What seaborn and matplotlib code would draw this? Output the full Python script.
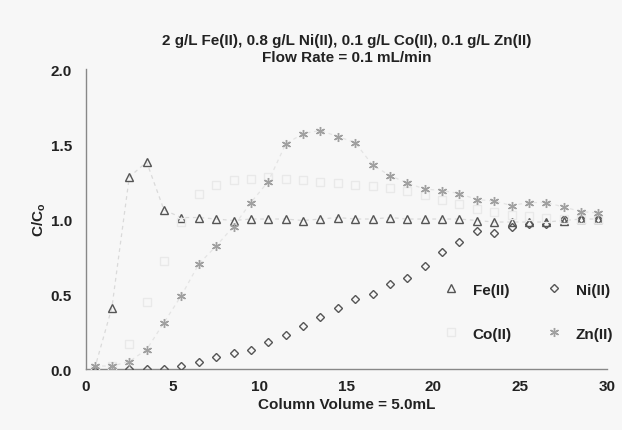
import matplotlib
matplotlib.use("Agg")
import matplotlib.pyplot as plt
import seaborn as sns
import pandas as pd

volume = [0.5, 1.5, 2.5, 3.5, 4.5, 5.5, 6.5, 7.5, 8.5, 9.5, 10.5, 11.5, 12.5, 13.5, 14.5,
          15.5, 16.5, 17.5, 18.5, 19.5, 20.5, 21.5, 22.5, 23.5, 24.5, 25.5, 26.5, 27.5, 28.5, 29.5]
fe = [0.0, 0.41, 1.28, 1.38, 1.06, 1.01, 1.01, 1.0, 0.99, 1.0, 1.0, 1.0, 0.99, 1.0, 1.01,
      1.0, 1.0, 1.01, 1.0, 1.0, 1.0, 1.0, 0.99, 0.98, 0.98, 0.98, 0.98, 0.99, 1.0, 1.0]
ni = [0.0, 0.0, 0.0, 0.0, 0.0, 0.02, 0.05, 0.08, 0.11, 0.13, 0.18, 0.23, 0.29, 0.35, 0.41,
      0.47, 0.50, 0.57, 0.61, 0.69, 0.78, 0.85, 0.92, 0.91, 0.95, 0.97, 0.97, 1.0, 1.0, 1.0]
co = [0.0, 0.02, 0.17, 0.45, 0.72, 0.98, 1.17, 1.23, 1.26, 1.27, 1.28, 1.27, 1.26, 1.25, 1.24,
      1.23, 1.22, 1.21, 1.19, 1.16, 1.13, 1.10, 1.07, 1.05, 1.03, 1.02, 1.01, 1.0, 1.0, 1.0]
zn = [0.02, 0.02, 0.05, 0.13, 0.31, 0.49, 0.70, 0.82, 0.95, 1.11, 1.25, 1.50, 1.57, 1.59, 1.55,
      1.51, 1.36, 1.29, 1.24, 1.20, 1.19, 1.17, 1.13, 1.12, 1.09, 1.11, 1.11, 1.08, 1.05, 1.04]

title = "2 g/L Fe(II), 0.8 g/L Ni(II), 0.1 g/L Co(II), 0.1 g/L Zn(II)\nFlow Rate = 0.1 mL/min"
xlabel = "Column Volume = 5.0mL"
ylabel = "C/C$_\\mathregular{o}$"

sns.set_theme(style="white")
plt.rcParams['font.family'] = ['Liberation Sans', 'DejaVu Sans']

bg = "#f7f7f7"
fig = plt.figure(figsize=(6.22, 4.31), dpi=100, facecolor=bg)
ax = fig.add_axes([0.138, 0.1415, 0.838, 0.696])
ax.set_facecolor(bg)

series = [
    ("Fe(II)", fe, "^", "#555555", "#dadada", 6.0),
    ("Ni(II)", ni, "D", "#555555", None, 4.3),
    ("Co(II)", co, "s", "#e9e9e9", None, 6.0),
    ("Zn(II)", zn, (6, 2, 0), "#a0a0a0", "#e4e4e4", 6.5),
]

handles = []
for name, vals, mk, col, linecol, ms in series:
    df = pd.DataFrame({"x": volume, "y": vals})
    if linecol is not None:
        sns.lineplot(data=df, x="x", y="y", ax=ax, color=linecol, lw=0.9,
                     linestyle=(0, (3, 3)), zorder=1)
    sns.lineplot(data=df, x="x", y="y", ax=ax, linestyle="none", marker=mk,
                 markersize=ms, markerfacecolor="none", markeredgecolor=col,
                 markeredgewidth=1.0, color=col, zorder=3)
    h, = ax.plot([], [], linestyle="none", marker=mk, markersize=ms,
                 markerfacecolor="none", markeredgecolor=col, markeredgewidth=1.0)
    handles.append((h, name))

ax.set_xlim(0, 30)
ax.set_ylim(0, 2.0)
ax.set_xticks([0, 5, 10, 15, 20, 25, 30])
ax.set_yticks([0, 0.5, 1.0, 1.5, 2.0])
ax.set_yticklabels(["0.0", "0.5", "1.0", "1.5", "2.0"])
for s in ["top", "right"]:
    ax.spines[s].set_visible(False)
for s in ["left", "bottom"]:
    ax.spines[s].set_color("#888888")
    ax.spines[s].set_linewidth(1.0)
ax.tick_params(axis="both", direction="out", length=4, width=0.8, color="#888888",
               labelsize=11)
ax.tick_params(axis="x", pad=3)
ax.tick_params(axis="y", pad=6)
for lab in ax.get_xticklabels() + ax.get_yticklabels():
    lab.set_fontweight("bold")
    lab.set_color("#222222")

ax.set_xlabel(xlabel, fontsize=11, fontweight="bold", color="#222222", labelpad=3)
ax.set_ylabel(ylabel, fontsize=11, fontweight="bold", color="#222222", labelpad=2)
ax.set_title(title, fontsize=11, fontweight="bold", color="#222222", pad=6, linespacing=1.25)

order = [0, 2, 1, 3]
leg = ax.legend([handles[i][0] for i in order], [handles[i][1] for i in order],
                ncol=2, frameon=False, loc="lower right", bbox_to_anchor=(1.012, 0.095),
                borderaxespad=0, borderpad=0,
                prop={"weight": "bold", "size": 11},
                handletextpad=0.8, columnspacing=2.2, labelspacing=1.95, handlelength=1.2)
for t in leg.get_texts():
    t.set_color("#222222")

fig.savefig("out.png", dpi=100, facecolor=bg)
